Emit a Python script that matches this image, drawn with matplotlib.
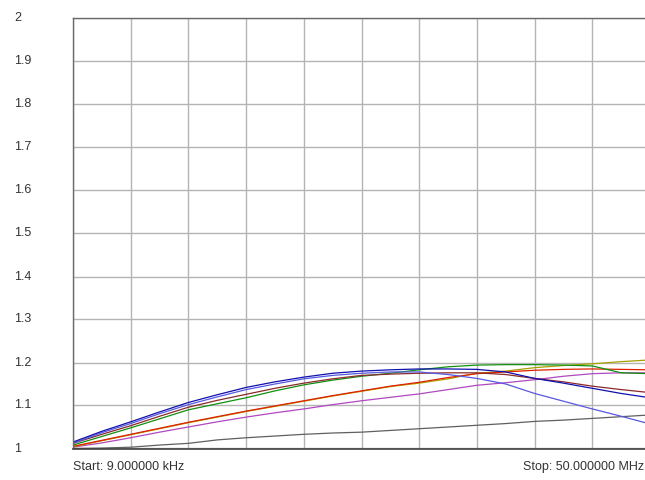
import matplotlib.pyplot as plt
import numpy as np
from matplotlib.transforms import blended_transform_factory

# Sweep settings (MHz)
start_mhz = 0.009
stop_mhz = 50.0
n_points = 21

# Measured VSWR traces, one value per sweep point
trace_navy = [1.015, 1.040, 1.062, 1.085, 1.107, 1.125, 1.142, 1.155, 1.166, 1.175, 1.180,
              1.183, 1.185, 1.185, 1.184, 1.178, 1.163, 1.152, 1.140, 1.128, 1.118]
trace_blue = [1.012, 1.037, 1.058, 1.081, 1.102, 1.120, 1.137, 1.150, 1.162, 1.170, 1.175,
              1.178, 1.178, 1.172, 1.163, 1.150, 1.128, 1.110, 1.092, 1.075, 1.057]
trace_maroon = [1.012, 1.033, 1.053, 1.075, 1.096, 1.112, 1.126, 1.140, 1.152, 1.162, 1.170,
                1.173, 1.175, 1.176, 1.176, 1.172, 1.163, 1.155, 1.145, 1.137, 1.130]
trace_green = [1.008, 1.028, 1.048, 1.069, 1.090, 1.104, 1.118, 1.134, 1.148, 1.159, 1.168,
               1.175, 1.183, 1.190, 1.194, 1.195, 1.195, 1.194, 1.192, 1.176, 1.174]
trace_red = [1.005, 1.019, 1.033, 1.047, 1.061, 1.074, 1.087, 1.099, 1.111, 1.123, 1.134,
             1.145, 1.154, 1.165, 1.174, 1.178, 1.182, 1.184, 1.185, 1.184, 1.183]
trace_olive = [1.004, 1.018, 1.032, 1.046, 1.060, 1.073, 1.086, 1.098, 1.110, 1.122, 1.133,
               1.144, 1.152, 1.162, 1.175, 1.180, 1.188, 1.193, 1.197, 1.202, 1.206]
trace_purple = [1.003, 1.013, 1.025, 1.038, 1.050, 1.062, 1.073, 1.083, 1.092, 1.102, 1.111,
                1.119, 1.127, 1.137, 1.147, 1.153, 1.160, 1.168, 1.174, 1.176, 1.176]
trace_gray = [1.000, 1.001, 1.003, 1.008, 1.012, 1.020, 1.025, 1.029, 1.033, 1.036, 1.038,
              1.042, 1.046, 1.050, 1.054, 1.058, 1.063, 1.066, 1.070, 1.074, 1.078]

y_ticks = [1.0, 1.1, 1.2, 1.3, 1.4, 1.5, 1.6, 1.7, 1.8, 1.9, 2.0]
y_tick_labels = ['1', '1.1', '1.2', '1.3', '1.4', '1.5', '1.6', '1.7', '1.8', '1.9', '2']

freq = np.linspace(start_mhz, stop_mhz, n_points)

plt.rcParams['font.family'] = ['Liberation Sans', 'DejaVu Sans']

fig = plt.figure(figsize=(6.45, 4.80), dpi=100)
W, H = 645, 480
ax = fig.add_axes([73 / W, 1 - 448.5 / H, 577 / W, 430 / H])

ax.set_xlim(start_mhz, stop_mhz)
ax.set_ylim(1.0, 2.0)
ax.set_xticks(np.linspace(start_mhz, stop_mhz, 11))
ax.set_yticks(y_ticks)
ax.grid(True, color='#b4b4b4', linewidth=1.0)
ax.set_axisbelow(True)
ax.tick_params(length=0, labelbottom=False, labelleft=False)

for side in ['top', 'left']:
    ax.spines[side].set_color('#6a6a6a')
    ax.spines[side].set_linewidth(1.0)
ax.spines['bottom'].set_color('#404040')
ax.spines['bottom'].set_linewidth(1.2)
ax.spines['right'].set_visible(False)

traces = [
    (trace_gray, '#606060'),
    (trace_purple, '#b048c0'),
    (trace_olive, '#a8a000'),
    (trace_red, '#e02000'),
    (trace_green, '#109010'),
    (trace_maroon, '#8a2a2a'),
    (trace_blue, '#5858e0'),
    (trace_navy, '#1010b0'),
]
for values, color in traces:
    ax.plot(freq, values, color=color, linewidth=0.9)

# y labels sit at the left edge of the window, left aligned
tr = blended_transform_factory(fig.transFigure, ax.transData)
for v, lab in zip(y_ticks, y_tick_labels):
    ax.text(14 / W, v, lab, transform=tr, ha='left', va='center',
            fontsize=9, color='#333333', clip_on=False)

fig.text(73 / W, 1 - 467 / H, 'Start: 9.000000 kHz', ha='left', va='center',
         fontsize=9, color='#333333')
fig.text(644 / W, 1 - 467 / H, 'Stop: 50.000000 MHz', ha='right', va='center',
         fontsize=9, color='#333333')

fig.savefig('out.png', dpi=100)
